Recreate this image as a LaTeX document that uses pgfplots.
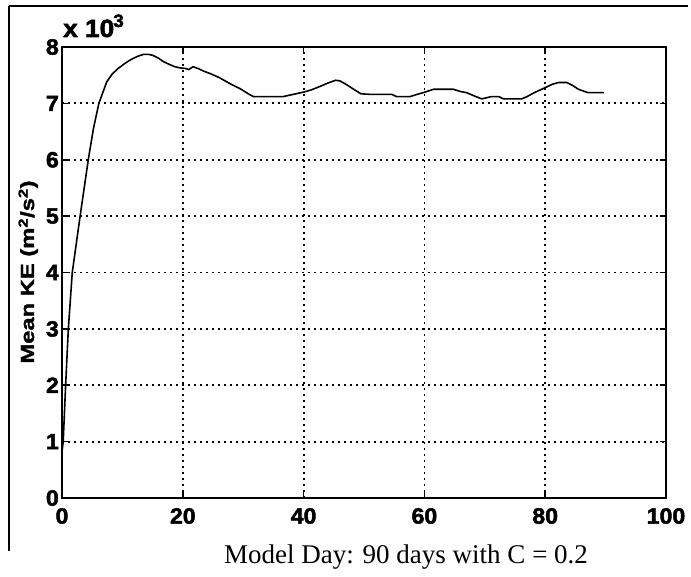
\documentclass[border=0pt]{standalone}
\usepackage{pgfplots}
\pgfplotsset{compat=1.18}
\usepackage{fontspec}
\setmainfont{Liberation Serif}
\newfontfamily\tickfamily[FakeBold=2.2,FakeStretch=1.05]{Liberation Sans}
\newfontfamily\labfamily[FakeStretch=1.25,FakeBold=1.5]{Liberation Sans}
\newcommand\tickfont{\fontsize{22}{22}\selectfont\tickfamily\bfseries}
\begin{document}
\begin{tikzpicture}[x=1pt,y=1pt]
\path[use as bounding box] (0,0) rectangle (691,576);
\draw[line width=1.3pt] (9,570) -- (688,570);
\draw[line width=1.3pt] (9,570) -- (9,25);
\begin{axis}[
  at={(62pt,78pt)}, anchor=south west, scale only axis,
  width=604pt, height=451pt,
  xmin=0, xmax=100, ymin=0, ymax=8,
  xtick={0,20,40,60,80,100}, ytick={0,1,2,3,4,5,6,7,8},
  tick align=inside, tickpos=both, major tick length=6pt,
  grid=major,
  major grid style={black, line width=1.8pt, dash pattern=on 2.2pt off 3.8pt},
  axis line style={line width=2pt},
  every tick/.style={black, line width=1.6pt},
  tick label style={font=\tickfont},
  /pgf/number format/assume math mode=true,
  xticklabel style={inner sep=0pt, anchor=north, yshift=-10pt},
  yticklabel style={inner sep=0pt, anchor=east, xshift=-3pt},
]
\addplot[black, line width=1.6pt, mark=none] coordinates {
(0,0.82) (0.2,1.0) (0.6,2.0) (1.05,3.0) (1.7,4.0) (3.0,5.0) (4.35,6.0)
(5.2,6.55) (6.1,7.0) (7.4,7.38) (8.3,7.52) (9.3,7.62) (10.3,7.70) (11.3,7.77)
(12.4,7.83) (13.5,7.87) (14.3,7.87) (15.1,7.85) (16.0,7.80) (16.8,7.74)
(17.8,7.69) (18.7,7.65) (19.5,7.63) (20.4,7.62) (21.0,7.60) (21.7,7.65)
(22.5,7.62) (23.5,7.57) (24.5,7.53) (26.0,7.46) (27.8,7.35) (29.5,7.26)
(31.0,7.16) (31.7,7.12) (34,7.12) (36.6,7.12) (38.3,7.16) (40,7.20)
(41.3,7.24) (42.7,7.30) (44,7.36) (45.3,7.41) (46.0,7.40) (47.0,7.34)
(48.3,7.25) (49.5,7.17) (51,7.16) (54.6,7.16) (55.4,7.12) (57.6,7.12)
(58.8,7.16) (59.8,7.19) (61.5,7.25) (64.8,7.25) (66,7.21) (67,7.19)
(68.3,7.13) (69.5,7.08) (71.1,7.12) (72.3,7.12) (73.1,7.08) (76.1,7.08)
(77,7.12) (78,7.18) (79.2,7.24) (80.2,7.29) (81.2,7.34) (82.2,7.37)
(83.6,7.37) (84.5,7.32) (85.5,7.25) (86.3,7.22) (87.1,7.19) (89.7,7.19)
};
\end{axis}
\node[anchor=base west, inner sep=0pt] at (63,539) {\fontsize{25}{25}\selectfont\tickfamily\bfseries x 10\kern-1pt\raisebox{10pt}{\fontsize{18}{18}\selectfont 3}};
\node[rotate=90, anchor=base, inner sep=0pt] at (34,304) {\fontsize{19}{19}\selectfont\labfamily\bfseries Mean KE (m\textsuperscript{2}/s\textsuperscript{2})};
\node[anchor=base, inner sep=0pt] at (406,13) {\fontsize{27}{27}\selectfont Model Day: 90 days with C = 0.2};
\end{tikzpicture}
\end{document}
